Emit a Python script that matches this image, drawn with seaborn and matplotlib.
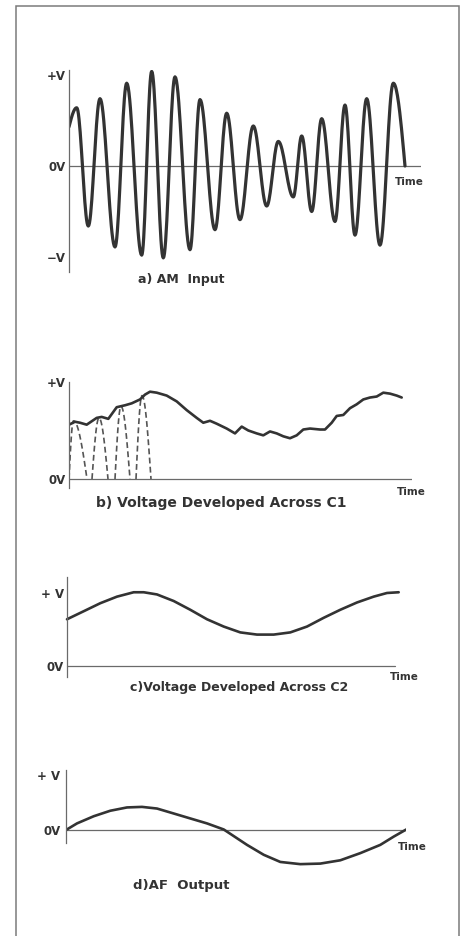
import numpy as np
import pandas as pd
import matplotlib
matplotlib.use("Agg")
import matplotlib.pyplot as plt
import seaborn as sns
from matplotlib.patches import Rectangle

# ---- data (t = time units, v = volts relative to +V) ----

# a) AM input: start point, alternating carrier peaks/troughs, end point
am_start_t, am_start_v = 0.0, 0.43
am_ext_t = [7.7, 19.3, 31, 46, 57.7, 72.7, 82.7, 94.3, 106, 121, 131, 146, 157.7, 171,
            184.3, 197.7, 209.3, 224.3, 232.7, 242.7, 252.7, 266, 276, 286, 297.7, 311, 324.3]
am_ext_v = [0.64, -0.66, 0.74, -0.89, 0.91, -0.98, 1.04, -1.01, 0.98, -0.92, 0.73, -0.70,
            0.58, -0.59, 0.44, -0.44, 0.27, -0.34, 0.33, -0.50, 0.52, -0.61, 0.67, -0.76,
            0.74, -0.87, 0.91]
am_end_t, am_end_v = 336.0, 0.0

# b) voltage across C1 (solid trace)
c1_t = [0, 6, 11, 17.7, 27.7, 32.7, 39.3, 47.7, 56, 62.7, 71, 76, 81, 87.7, 97.7, 107.7,
        117.7, 127.7, 134.3, 141, 147.7, 157.7, 166, 172.7, 179.3, 187.7, 194.3, 201,
        207.7, 214.3, 221, 227.7, 234.3, 241, 251, 256, 262.7, 267.7, 274.3, 281, 287.7,
        294.3, 301, 307.7, 314.3, 321, 327.7, 332.7]
c1_v = [0.56, 0.59, 0.58, 0.56, 0.63, 0.64, 0.62, 0.74, 0.76, 0.78, 0.82, 0.87, 0.90,
        0.89, 0.86, 0.80, 0.71, 0.63, 0.58, 0.60, 0.57, 0.52, 0.47, 0.54, 0.50, 0.47,
        0.45, 0.49, 0.47, 0.44, 0.42, 0.45, 0.51, 0.52, 0.51, 0.51, 0.58, 0.65, 0.66,
        0.73, 0.77, 0.82, 0.84, 0.85, 0.89, 0.88, 0.86, 0.84]
# rectified half-cycles charging C1 (dashed): start, peak, end, peak value
pulse_start = [0, 23, 46, 67]
pulse_peak = [4.5, 30, 52, 73]
pulse_end = [18, 39, 61, 82]
pulse_v = [0.60, 0.63, 0.75, 0.86]

# c) voltage across C2
c2_t = [0, 16.7, 33.3, 50, 66.7, 76.7, 90, 106.7, 123.3, 140, 156.7, 173.3, 190, 206.7,
        223.3, 240, 256.7, 273.3, 290, 306.7, 320, 331.7]
c2_v = [0.64, 0.75, 0.86, 0.95, 1.01, 1.01, 0.98, 0.89, 0.77, 0.64, 0.54, 0.46, 0.43,
        0.43, 0.46, 0.54, 0.66, 0.77, 0.87, 0.95, 1.00, 1.01]

# d) AF output
af_t = [0, 11, 27.7, 44.3, 61, 76, 91, 107.7, 124.3, 141, 157.7, 167.7, 181, 197.7, 214.3,
        234.3, 254.3, 274.3, 294.3, 314.3, 327.7, 340.3]
af_v = [0, 0.12, 0.25, 0.35, 0.41, 0.42, 0.39, 0.30, 0.21, 0.12, 0.01, -0.11, -0.27,
        -0.45, -0.58, -0.62, -0.61, -0.55, -0.42, -0.27, -0.12, 0.01]

W, H = 468, 936
INK = "#333333"
AXC = "#6a6a6a"


def carrier(ts, vs, n=20):
    # smooth carrier through the read extremes (ease-out first, ease-in last)
    tt, vv = [], []
    last = len(ts) - 2
    for i in range(len(ts) - 1):
        s = np.linspace(0, 1, n, endpoint=False)
        if i == 0:
            w = np.sin(np.pi / 2 * s)
        elif i == last:
            w = 1 - np.cos(np.pi / 2 * s)
        else:
            w = (1 - np.cos(np.pi * s)) / 2
        tt.append(ts[i] + (ts[i + 1] - ts[i]) * s)
        vv.append(vs[i] + (vs[i + 1] - vs[i]) * w)
    tt.append([ts[-1]]); vv.append([vs[-1]])
    return pd.DataFrame({"t": np.concatenate(tt), "v": np.concatenate(vv)})


def pulse(t0, tp, t1, vp, n=16):
    up = np.linspace(0, 1, n)
    dn = np.linspace(0, 1, n)[1:]
    t = np.concatenate([t0 + (tp - t0) * up, tp + (t1 - tp) * dn])
    v = np.concatenate([vp * np.sin(np.pi / 2 * up), vp * np.cos(np.pi / 2 * dn)])
    return pd.DataFrame({"t": t, "v": v})


def add_panel(fig, x0, x1, ytop, ybot, ylim, ticks, ticklabels):
    ax = fig.add_axes([x0 / W, 1 - ybot / H, (x1 - x0) / W, (ybot - ytop) / H])
    ax.set_xlim(0, x1 - x0)
    ax.set_ylim(*ylim)
    ax.patch.set_alpha(0)
    for s in ("top", "right", "bottom"):
        ax.spines[s].set_visible(False)
    ax.spines["left"].set_color(AXC)
    ax.spines["left"].set_linewidth(0.9)
    ax.set_xticks([])
    ax.set_yticks(ticks)
    ax.set_yticklabels(ticklabels, fontsize=8.5, fontweight="bold", color=INK)
    ax.tick_params(axis="y", length=0, pad=2)
    ax.axhline(0, color=AXC, lw=0.9, zorder=1)
    return ax


sns.set_theme(style="white")
plt.rcParams["font.family"] = ["DejaVu Sans"]

fig = plt.figure(figsize=(W / 100, H / 100), dpi=100)
fig.patch.set_facecolor("white")

# a) AM input
ax = add_panel(fig, 69, 421, 70, 272, (-1.165, 1.055), [1, 0, -1], ["+V", "0V", "\u2212V"])
am = carrier([am_start_t] + am_ext_t + [am_end_t], [am_start_v] + am_ext_v + [am_end_v])
sns.lineplot(data=am, x="t", y="v", ax=ax, color=INK, lw=2.3, sort=False, estimator=None)
ax.set_xlabel(""); ax.set_ylabel("")

# b) across C1
ax = add_panel(fig, 69, 412, 382, 488, (-0.093, 1.0), [1, 0], ["+V", "0V"])
for a, p, e, v in zip(pulse_start, pulse_peak, pulse_end, pulse_v):
    sns.lineplot(data=pulse(a, p, e, v), x="t", y="v", ax=ax, color="#555555", lw=1.2,
                 linestyle=(0, (3.5, 2)), sort=False, estimator=None)
sns.lineplot(x=c1_t, y=c1_v, ax=ax, color=INK, lw=1.9, sort=False, estimator=None)
ax.set_xlabel(""); ax.set_ylabel("")

# c) across C2
ax = add_panel(fig, 67, 395, 577, 677, (-0.151, 1.219), [1, 0], ["+ V", "0V"])
sns.lineplot(x=c2_t, y=c2_v, ax=ax, color=INK, lw=1.9, sort=False, estimator=None)
for ln in ax.lines:
    ln.set_clip_on(False)
ax.set_xlabel(""); ax.set_ylabel("")

# d) AF output
ax = add_panel(fig, 66, 406, 770, 868, (-0.69, 1.09), [1, 0], ["+ V", "0V"])
ax.spines["left"].set_bounds(-0.24, 1.09)
ax.tick_params(axis="y", length=3, width=0.9, color=AXC, pad=1)
ax.get_yticklines()[0].set_visible(False)
sns.lineplot(x=af_t, y=af_v, ax=ax, color=INK, lw=1.9, sort=False, estimator=None)
ax.set_xlabel(""); ax.set_ylabel("")

# "Time" labels and captions
txt = dict(fontsize=7.5, fontweight="bold", color=INK, va="center", ha="left")
for x, y in [(395, 182), (397, 492), (390, 677), (398, 847)]:
    fig.text(x / W, 1 - y / H, "Time", **txt)
cap = dict(fontweight="bold", color=INK, va="center", ha="left")
fig.text(138 / W, 1 - 280 / H, "a) AM  Input", fontsize=9, **cap)
fig.text(96 / W, 1 - 503 / H, "b) Voltage Developed Across C1", fontsize=10, **cap)
fig.text(130 / W, 1 - 688 / H, "c)Voltage Developed Across C2", fontsize=9, **cap)
fig.text(133 / W, 1 - 885 / H, "d)AF  Output", fontsize=9.5, **cap)

# outer frame
fig.add_artist(Rectangle((16 / W, -0.01), 443 / W, 1 - 6 / H + 0.01, transform=fig.transFigure,
                         fill=False, edgecolor="#7a7a7a", lw=1.1))

fig.savefig("out.png", dpi=100, facecolor="white")
